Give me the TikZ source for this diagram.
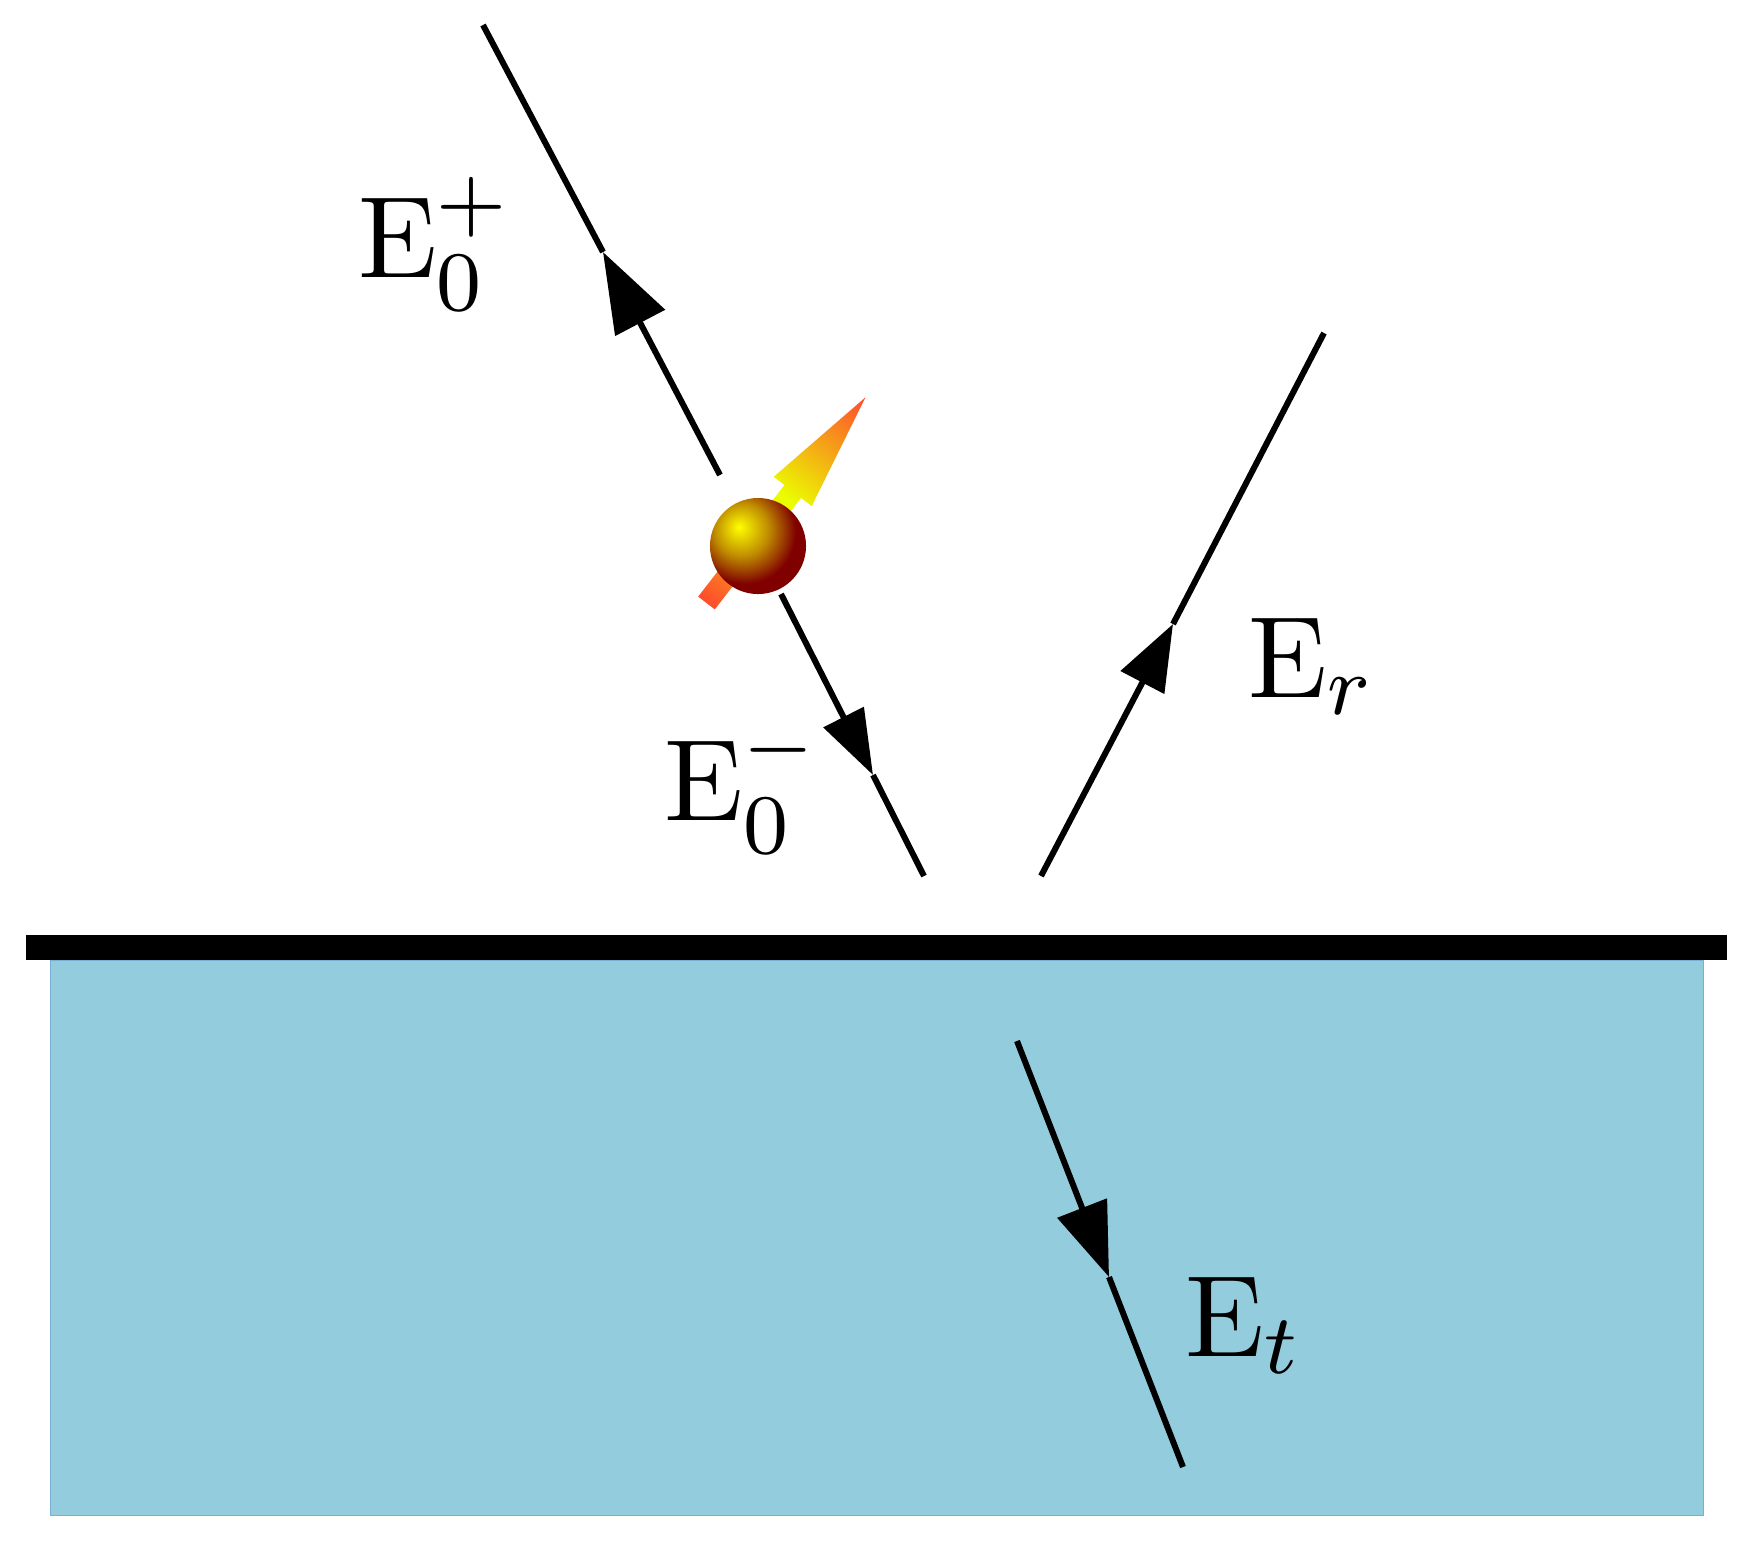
\documentclass[tikz,border=0pt]{standalone}
\usepackage{amsmath,amssymb,amsfonts}
\usepackage{xcolor}
\usepackage{tikz}
\usetikzlibrary{arrows.meta}

\definecolor{slabblue}{RGB}{147,204,221}
\definecolor{slabedge}{RGB}{120,175,210}
\definecolor{spinred}{RGB}{255,75,45}
\definecolor{spinyellow}{RGB}{235,255,0}
\pgfdeclareradialshading{spinball}{\pgfpoint{-10bp}{10bp}}{%
  rgb(0bp)=(1,1,0); rgb(14bp)=(0.75,0.55,0); rgb(27bp)=(0.5,0,0); rgb(100bp)=(0.5,0,0)}
\tikzset{
  ray/.style={draw=black,line width=0.06cm},
  field/.style={inner sep=0pt,anchor=base west,font=\fontsize{10.95}{13}\selectfont,scale=3.01,transform shape}
}

\begin{document}
\begin{tikzpicture}[x=0.01cm,y=-0.01cm]
            \useasboundingbox (0,0) rectangle (1757,1550);

            % slab and surface
            \filldraw[fill=slabblue,draw=slabedge,line width=0.01cm] (50,960) rectangle (1703,1515);
            \fill[black] (26,935) rectangle (1727,960);

            % spin arrow, then the ball on top
            \shade[transform canvas={shift={(706.5,603)},rotate=52.3},left color=spinred,right color=spinred,middle color=spinyellow]
                (0,-10.5) -- (141,-10.5) -- (141,-24) -- (260,0) -- (141,24) -- (141,10.5) -- (0,10.5) -- cycle;
            \node[shape=circle,minimum size=0.96cm,inner sep=0pt,shading=spinball] (ball) at (758,546) {};

            \coordinate (p0) at (720,475);
            \coordinate (p1) at (603,252);
            \coordinate (p2) at (483,25);

            \coordinate (m0) at (781,594);
            \coordinate (m1) at (873,775);
            \coordinate (m2) at (924,876);

            \coordinate (r0) at (1041,876);
            \coordinate (r1) at (1173,624);
            \coordinate (r2) at (1324,333);

            \coordinate (t0) at (1017,1041);
            \coordinate (t1) at (1109,1277);
            \coordinate (t2) at (1183,1467);

            \draw [-{Triangle[length=0.8cm,width=0.55cm]}, ray] (p0) -- (p1);
            \draw [ray] (p1) -- (p2);
            \draw [-{Triangle[length=0.65cm,width=0.44cm]}, ray] (m0) -- (m1);
            \draw [ray] (m1) -- (m2);
            \draw [-{Triangle[length=0.66cm,width=0.48cm]}, ray] (r0) -- (r1);
            \draw [ray] (r1) -- (r2);
            \draw [-{Triangle[length=0.74cm,width=0.52cm]}, ray] (t0) -- (t1);
            \draw [ray] (t1) -- (t2);

            \node[field] (eplus) at (356,277) {$\mathrm{E}_0^+$};
            \node[field] (eminus) at (662,820) {$\mathrm{E}_0^-$};
            \node[field] (er) at (1246,697) {$\mathrm{E}_r$};
            \node[field] (et) at (1183,1356) {$\mathrm{E}_t$};
        \end{tikzpicture}
\end{document}
